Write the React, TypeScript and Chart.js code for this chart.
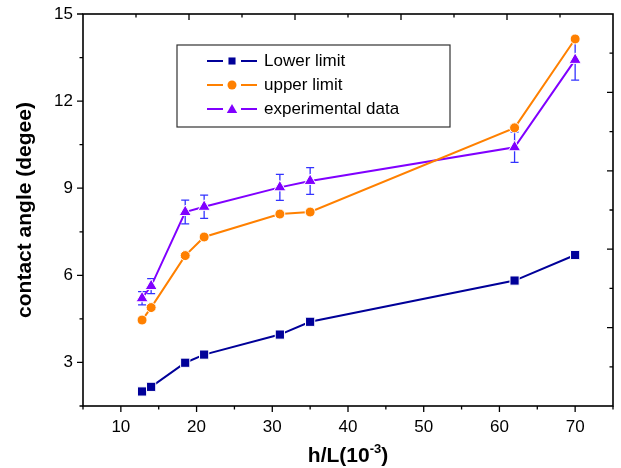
import React, { useEffect, useRef } from 'react';
import { Chart, registerables } from 'chart.js';

Chart.register(...registerables);

// ---- data ----
const xValues = [12.8, 14, 18.5, 21, 31, 35, 62, 70];
const lowerLimit = [2.0, 2.16, 2.99, 3.27, 3.96, 4.4, 5.82, 6.7];
const upperLimit = [4.46, 4.89, 6.68, 7.32, 8.11, 8.18, 11.08, 14.14];
const experimental = [5.21, 5.63, 8.18, 8.36, 9.03, 9.25, 10.41, 13.42];
const experimentalError = [0.23, 0.26, 0.41, 0.4, 0.45, 0.46, 0.52, 0.7];

const seriesLabels = ['Lower limit', 'upper limit', 'experimental data'];

const xMajorTicks = [10, 20, 30, 40, 50, 60, 70];
const xMinorTicks = [5, 15, 25, 35, 45, 55, 65, 75];
const yMajorTicks = [3, 6, 9, 12, 15];
const yMinorTicks = [1.5, 4.5, 7.5, 10.5, 13.5];
const topMajorTicks = [19, 33, 47, 61];
const topMinorTicks = [12, 26, 40, 54, 68];
const rightMajorTicks = [4.2, 6.9, 9.6, 12.3];
const rightMinorTicks = [2.85, 5.55, 8.25, 10.95, 13.65];

const xTitleMain = 'h/L(10';
const xTitleSup = '-3';
const xTitleEnd = ')';
const yTitle = 'contact angle (degee)';

const NAVY = '#000099';
const ORANGE = '#ff8000';
const PURPLE = '#8000ff';
const ERR = '#3333ff';
const FONT = '"Liberation Sans", Arial, Helvetica, sans-serif';

function drawMarker(ctx: CanvasRenderingContext2D, style: string, x: number, y: number, r: number, color: string) {
  ctx.save();
  ctx.fillStyle = color;
  ctx.beginPath();
  if (style === 'rect') {
    const s = r * Math.SQRT1_2;
    ctx.rect(x - s, y - s, 2 * s, 2 * s);
  } else if (style === 'circle') {
    ctx.arc(x, y, r, 0, Math.PI * 2);
  } else {
    ctx.moveTo(x, y - r);
    ctx.lineTo(x + r * 0.866, y + r * 0.5);
    ctx.lineTo(x - r * 0.866, y + r * 0.5);
    ctx.closePath();
  }
  ctx.fill();
  ctx.restore();
}

const framePlugin = {
  id: 'framePlugin',
  beforeDatasetsDraw(chart: any) {
    const ctx: CanvasRenderingContext2D = chart.ctx;
    const xs = chart.scales.x;
    const ys = chart.scales.y;
    ctx.save();
    ctx.strokeStyle = ERR;
    ctx.lineWidth = 1.3;
    xValues.forEach((xv, i) => {
      const px = xs.getPixelForValue(xv);
      const top = ys.getPixelForValue(experimental[i] + experimentalError[i]);
      const bot = ys.getPixelForValue(experimental[i] - experimentalError[i]);
      ctx.beginPath();
      ctx.moveTo(px, top);
      ctx.lineTo(px, bot);
      ctx.moveTo(px - 4, top);
      ctx.lineTo(px + 4, top);
      ctx.moveTo(px - 4, bot);
      ctx.lineTo(px + 4, bot);
      ctx.stroke();
    });
    ctx.restore();
  },
  afterDraw(chart: any) {
    const ctx: CanvasRenderingContext2D = chart.ctx;
    const { left, right, top, bottom } = chart.chartArea;
    const xs = chart.scales.x;
    const ys = chart.scales.y;
    ctx.save();
    ctx.strokeStyle = '#000';
    ctx.lineWidth = 1.6;
    ctx.strokeRect(left, top, right - left, bottom - top);
    ctx.lineWidth = 1.3;
    ctx.beginPath();
    xMajorTicks.forEach(v => { const p = xs.getPixelForValue(v); ctx.moveTo(p, bottom); ctx.lineTo(p, bottom + 6); });
    xMinorTicks.forEach(v => { const p = xs.getPixelForValue(v); ctx.moveTo(p, bottom); ctx.lineTo(p, bottom + 3.5); });
    yMajorTicks.forEach(v => { const p = ys.getPixelForValue(v); ctx.moveTo(left, p); ctx.lineTo(left - 6, p); });
    yMinorTicks.forEach(v => { const p = ys.getPixelForValue(v); ctx.moveTo(left, p); ctx.lineTo(left - 3.5, p); });
    topMajorTicks.forEach(v => { const p = xs.getPixelForValue(v); ctx.moveTo(p, top); ctx.lineTo(p, top + 6); });
    topMinorTicks.forEach(v => { const p = xs.getPixelForValue(v); ctx.moveTo(p, top); ctx.lineTo(p, top + 3.5); });
    rightMajorTicks.forEach(v => { const p = ys.getPixelForValue(v); ctx.moveTo(right, p); ctx.lineTo(right - 6, p); });
    rightMinorTicks.forEach(v => { const p = ys.getPixelForValue(v); ctx.moveTo(right, p); ctx.lineTo(right - 3.5, p); });
    ctx.stroke();

    // legend
    const bx = 177, by = 45, bw = 273, bh = 82;
    ctx.lineWidth = 1.2;
    ctx.strokeStyle = '#333';
    ctx.strokeRect(bx, by, bw, bh);
    const styles = ['rect', 'circle', 'triangle'];
    const radii = [5, 4.5, 6];
    const rowY = [61, 85, 109];
    chart.data.datasets.forEach((ds: any, i: number) => {
      const y = rowY[i];
      const cx = 232;
      ctx.strokeStyle = ds.borderColor;
      ctx.lineWidth = 2;
      ctx.beginPath();
      ctx.moveTo(207, y); ctx.lineTo(223, y);
      ctx.moveTo(241, y); ctx.lineTo(257, y);
      ctx.stroke();
      drawMarker(ctx, styles[i], cx, styles[i] === 'triangle' ? y + 1 : y, radii[i], ds.borderColor);
      ctx.fillStyle = '#000';
      ctx.font = `17px ${FONT}`;
      ctx.textAlign = 'left';
      ctx.textBaseline = 'middle';
      ctx.fillText(ds.label, 264, y);
    });

    // y title
    ctx.save();
    ctx.translate(25, (top + bottom) / 2);
    ctx.rotate(-Math.PI / 2);
    ctx.font = `bold 21px ${FONT}`;
    ctx.fillStyle = '#000';
    ctx.textAlign = 'center';
    ctx.textBaseline = 'middle';
    ctx.fillText(yTitle, 0, 0);
    ctx.restore();

    // x title with superscript
    ctx.fillStyle = '#000';
    ctx.textBaseline = 'alphabetic';
    ctx.textAlign = 'left';
    const mainFont = `bold 21px ${FONT}`;
    const supFont = `bold 13px ${FONT}`;
    ctx.font = mainFont;
    const w1 = ctx.measureText(xTitleMain).width;
    const w3 = ctx.measureText(xTitleEnd).width;
    ctx.font = supFont;
    const w2 = ctx.measureText(xTitleSup).width;
    const total = w1 + w2 + w3;
    const cx = (left + right) / 2;
    let x0 = cx - total / 2;
    const base = 462;
    ctx.font = mainFont;
    ctx.fillText(xTitleMain, x0, base);
    x0 += w1;
    ctx.font = supFont;
    ctx.fillText(xTitleSup, x0, base - 9);
    x0 += w2;
    ctx.font = mainFont;
    ctx.fillText(xTitleEnd, x0, base);
    ctx.restore();
  },
};

export default function App() {
  const ref = useRef<HTMLCanvasElement>(null);
  useEffect(() => {
    const canvas = ref.current!;
    const mk = (arr: number[]) => xValues.map((x, i) => ({ x, y: arr[i] }));
    const chart = new Chart(canvas, {
      type: 'line',
      data: {
        datasets: [
          {
            label: seriesLabels[0], data: mk(lowerLimit), borderColor: NAVY, backgroundColor: NAVY,
            pointStyle: 'rect', pointRadius: 6.5, borderWidth: 2, pointBorderColor: '#ffffff', pointBorderWidth: 1,
          },
          {
            label: seriesLabels[1], data: mk(upperLimit), borderColor: ORANGE, backgroundColor: ORANGE,
            pointStyle: 'circle', pointRadius: 5, borderWidth: 2, pointBorderColor: '#ffffff', pointBorderWidth: 1,
          },
          {
            label: seriesLabels[2], data: mk(experimental), borderColor: PURPLE, backgroundColor: PURPLE,
            pointStyle: 'triangle', pointRadius: 7, borderWidth: 2, pointBorderColor: '#ffffff', pointBorderWidth: 1,
          },
        ],
      } as any,
      options: {
        responsive: false,
        animation: false,
        devicePixelRatio: 1,
        layout: { padding: { top: 14, right: 8, left: 0, bottom: 0 } },
        plugins: { legend: { display: false }, tooltip: { enabled: false }, title: { display: false } },
        scales: {
          x: {
            type: 'linear', min: 5, max: 75,
            afterBuildTicks: (s: any) => { s.ticks = xMajorTicks.map(v => ({ value: v })); },
            afterFit: (s: any) => { s.height = 62; s.paddingLeft = 0; s.paddingRight = 0; },
            grid: { display: false, drawTicks: false },
            border: { display: false },
            ticks: { padding: 11, color: '#000', font: { family: FONT, size: 17 }, maxRotation: 0, autoSkip: false },
          },
          y: {
            type: 'linear', min: 1.5, max: 15,
            afterBuildTicks: (s: any) => { s.ticks = yMajorTicks.map(v => ({ value: v })); },
            afterFit: (s: any) => { s.width = 83; s.paddingTop = 0; s.paddingBottom = 0; },
            grid: { display: false, drawTicks: false },
            border: { display: false },
            ticks: { padding: 10, color: '#000', font: { family: FONT, size: 17 }, autoSkip: false },
          },
        },
      } as any,
      plugins: [framePlugin],
    });
    return () => chart.destroy();
  }, []);
  return (
    <div style={{ position: 'fixed', left: 0, top: 0, width: 621, height: 468, background: '#fff' }}>
      <canvas ref={ref} width={621} height={468} style={{ display: 'block', width: 621, height: 468 }} />
    </div>
  );
}
